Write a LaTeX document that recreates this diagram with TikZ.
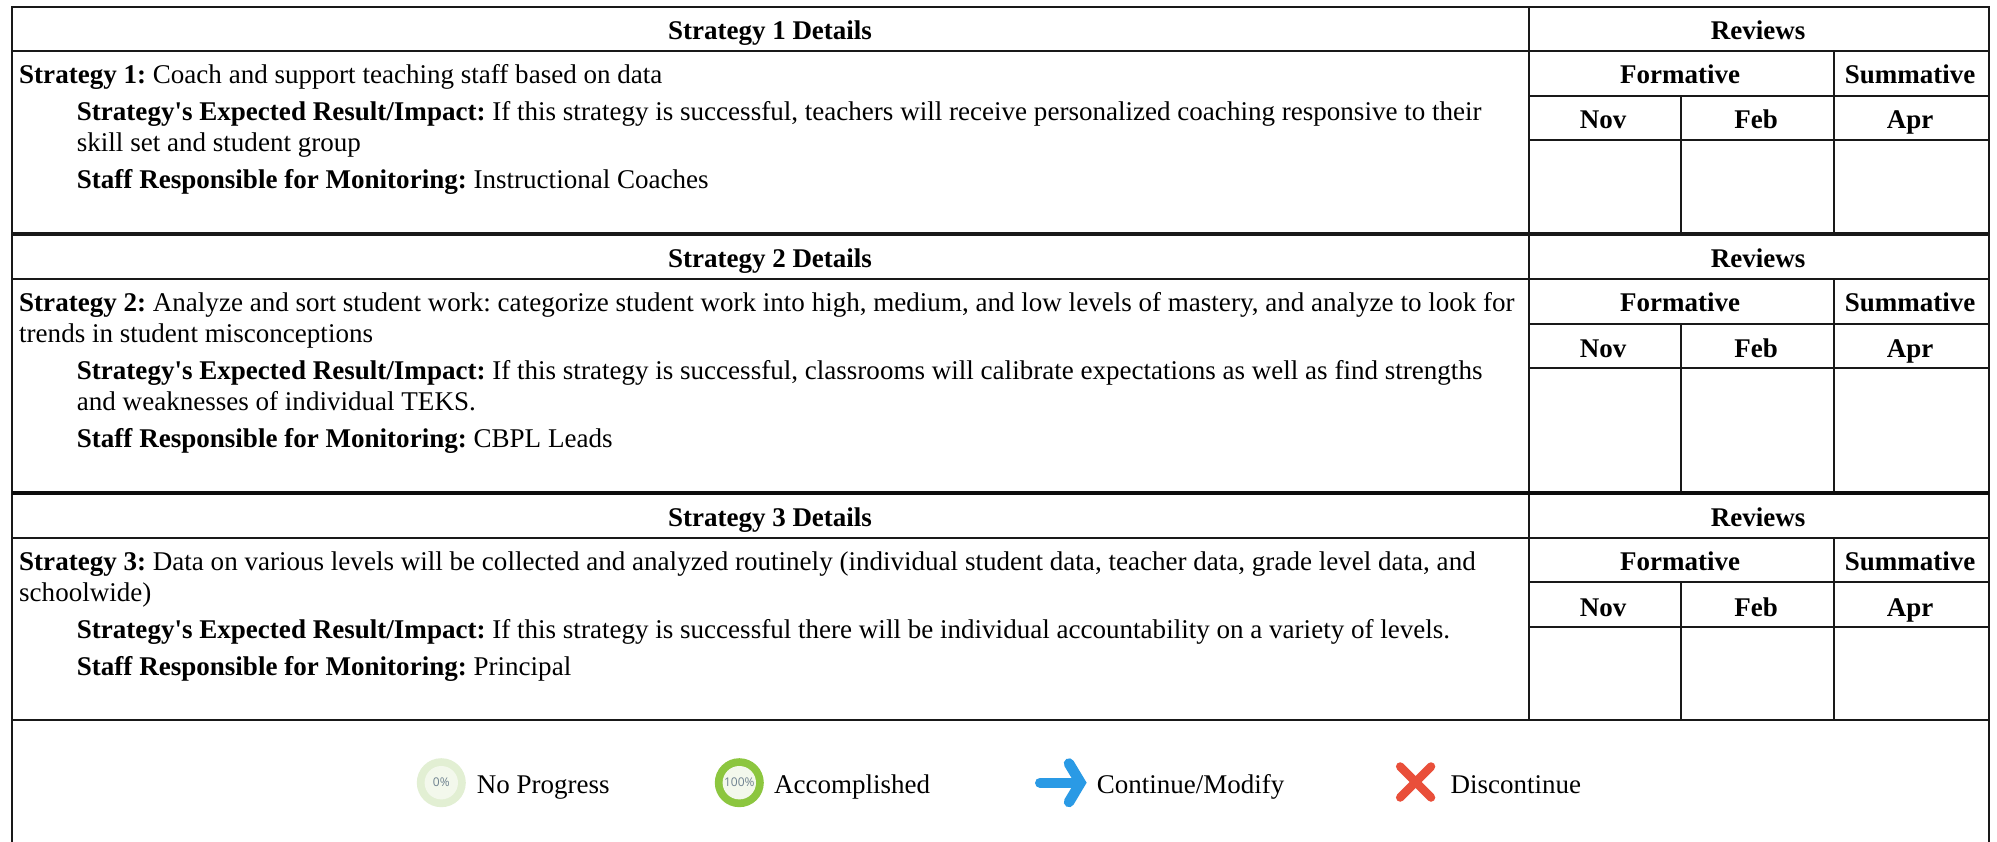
\documentclass[tikz,border=0pt]{standalone}
\usepackage{fontspec}
\setmainfont{Liberation Serif}[Ligatures=TeXOff]
\newfontfamily\pctfont{Open Sans}
\definecolor{ringpale}{HTML}{E2EFD3}
\definecolor{innerpale}{HTML}{F3F8EC}
\definecolor{ringgreen}{HTML}{8CC63F}
\definecolor{arrowblue}{HTML}{2A9AE5}
\definecolor{crossred}{HTML}{E94F3A}
\definecolor{pctgrey}{HTML}{6F8290}
\tikzset{
  x=1pt,y=-1pt,
  rule/.style={draw=black!90,line width=2pt},
  heavyrule/.style={draw=black!90,line width=3.4pt},
  heavierrule/.style={draw=black!95,line width=4pt},
  body/.style={font=\fontsize{27.05}{31}\selectfont\frenchspacing,inner sep=0pt,anchor=base west,align=left,text=black},
  head/.style={font=\fontsize{27}{31}\selectfont\bfseries,inner sep=0pt,anchor=base,text=black},
  legend/.style={font=\fontsize{27}{31}\selectfont,inner sep=0pt,anchor=base west,text=black},
  pct/.style={font=\pctfont\fontsize{12}{13}\selectfont,inner sep=0pt,text=pctgrey},
}
\newcommand{\strategyframe}[5]{%
  \draw[rule] (11.7,#2) -- (1988.7,#2);
  \draw[rule] (1528.7,#1) -- (1528.7,#5);
  \draw[rule] (1833.7,#2) -- (1833.7,#5);
  \draw[rule] (1528.7,#3) -- (1988.7,#3);
  \draw[rule] (1528.7,#4) -- (1988.7,#4);
  \draw[rule] (1681,#3) -- (1681,#5);
}
\begin{document}
\begin{tikzpicture}
\useasboundingbox (0,0) rectangle (1997,842);
\fill[white] (0,0) rectangle (1997,842);
% outer frame
\draw[rule] (11.7,842) -- (11.7,6.7) -- (1988.7,6.7) -- (1988.7,842);
% strategy blocks
\strategyframe{6.7}{50.7}{96}{140}{234}
\strategyframe{234}{279.3}{323.7}{368}{492.5}
\strategyframe{492.5}{538}{582.3}{627}{720}
\draw[heavyrule] (11.7,234) -- (1988.7,234);
\draw[heavierrule] (11.7,492.5) -- (1988.7,492.5);
\draw[rule] (11.7,720) -- (1988.7,720);
% block 1
\node[head] (h1) at (770,39.5) {Strategy 1 Details};
\node[head] (r1) at (1758,39.5) {Reviews};
\node[head] (f1) at (1680,83.5) {Formative};
\node[head] (s1) at (1910,83.5) {Summative};
\node[head] (n1) at (1603,128.5) {Nov};
\node[head] (b1) at (1756,128.5) {Feb};
\node[head] (a1) at (1910,128.5) {Apr};
\node[body] (t1) at (19,83.5) {\textbf{Strategy 1:} Coach and support teaching staff based on data};
\node[body] (e1) at (76.7,151.5) {\textbf{Strategy's Expected Result/Impact:} If this strategy is successful, teachers will receive personalized coaching responsive to their\\skill set and student group};
\node[body] (m1) at (76.7,189) {\textbf{Staff Responsible for Monitoring:} Instructional Coaches};
% block 2
\node[head] (h2) at (770,267.5) {Strategy 2 Details};
\node[head] (r2) at (1758,267.5) {Reviews};
\node[head] (f2) at (1680,311.5) {Formative};
\node[head] (s2) at (1910,311.5) {Summative};
\node[head] (n2) at (1603,357.2) {Nov};
\node[head] (b2) at (1756,357.2) {Feb};
\node[head] (a2) at (1910,357.2) {Apr};
\node[body] (t2) at (19,342.5) {\textbf{Strategy 2:} Analyze and sort student work: categorize student work into high, medium, and low levels of mastery, and analyze to look for\\trends in student misconceptions};
\node[body] (e2) at (76.7,410) {\textbf{Strategy's Expected Result/Impact:} If this strategy is successful, classrooms will calibrate expectations as well as find strengths\\and weaknesses of individual TEKS.};
\node[body] (m2) at (76.7,447.5) {\textbf{Staff Responsible for Monitoring:} CBPL Leads};
% block 3
\node[head] (h3) at (770,526.5) {Strategy 3 Details};
\node[head] (r3) at (1758,526.5) {Reviews};
\node[head] (f3) at (1680,570.5) {Formative};
\node[head] (s3) at (1910,570.5) {Summative};
\node[head] (n3) at (1603,616.2) {Nov};
\node[head] (b3) at (1756,616.2) {Feb};
\node[head] (a3) at (1910,616.2) {Apr};
\node[body] (t3) at (19,601.5) {\textbf{Strategy 3:} Data on various levels will be collected and analyzed routinely (individual student data, teacher data, grade level data, and\\schoolwide)};
\node[body] (e3) at (76.7,638.5) {\textbf{Strategy's Expected Result/Impact:} If this strategy is successful there will be individual accountability on a variety of levels.};
\node[body] (m3) at (76.7,675.5) {\textbf{Staff Responsible for Monitoring:} Principal};
% legend
\fill[ringpale] (441.3,782.7) circle (24.5);
\fill[innerpale] (441.3,782.7) circle (16.7);
\node[pct] (p0) at (441.3,782.7) {0\%};
\node[legend] (l0) at (476.7,793.5) {No Progress};
\fill[ringgreen] (739.3,782.7) circle (24.5);
\fill[innerpale] (739.3,782.7) circle (16.7);
\node[pct] (p100) at (739.3,782.7) {100\%};
\node[legend] (l100) at (774,793.5) {Accomplished};
\draw[arrowblue,line width=10pt,line cap=round] (1040,782.7) -- (1078,782.7);
\draw[arrowblue,line width=10.5pt,line cap=round,line join=miter] (1069,763.5) -- (1080.5,782.7) -- (1069,802);
\node[legend] (l2) at (1096.7,793.5) {Continue/Modify};
\draw[crossred,line width=8.5pt,line cap=round] (1400.2,766.5) -- (1431,797.5);
\draw[crossred,line width=8.5pt,line cap=round] (1431,766.5) -- (1400.2,797.5);
\node[legend] (l3) at (1450.5,793.5) {Discontinue};
\end{tikzpicture}
\end{document}
